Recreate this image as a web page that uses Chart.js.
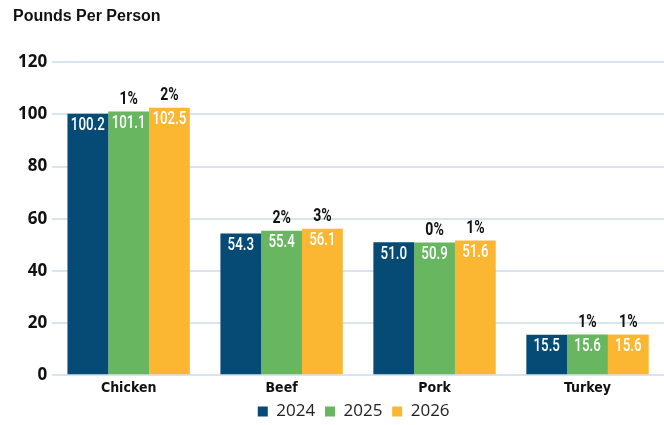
<!DOCTYPE html>
<html>
<head>
<meta charset="utf-8">
<script src="https://cdn.jsdelivr.net/npm/chart.js@4"></script>
<style>
  html, body { margin: 0; padding: 0; background: #fff; }
  #wrap { width: 664px; height: 425px; position: relative; }
</style>
</head>
<body>
<div id="wrap"><canvas id="chart"></canvas></div>
<script>
const categories = ['Chicken', 'Beef', 'Pork', 'Turkey'];
const years = ['2024', '2025', '2026'];
const values2024 = [100.2, 54.3, 51.0, 15.5];
const values2025 = [101.1, 55.4, 50.9, 15.6];
const values2026 = [102.5, 56.1, 51.6, 15.6];
const change2025 = ['1%', '2%', '0%', '1%'];
const change2026 = ['2%', '3%', '1%', '1%'];
const yTicks = [0, 20, 40, 60, 80, 100, 120];

const colors = ['#064b76', '#68b660', '#fbb731'];
const changes = [null, change2025, change2026];

// narrow text: squeeze it sideways
function narrowText(ctx, text, x, y, squeeze) {
    ctx.save();
    ctx.translate(x, y);
    ctx.scale(squeeze, 1);
    ctx.fillText(text, 0, 0);
    ctx.restore();
}

// labels: value inside the bar, change above it
const barLabels = {
    id: 'barLabels',
    afterDatasetsDraw(chart) {
        const ctx = chart.ctx;
        ctx.save();
        ctx.textAlign = 'center';
        ctx.textBaseline = 'middle';
        chart.data.datasets.forEach((ds, i) => {
            const meta = chart.getDatasetMeta(i);
            meta.data.forEach((bar, j) => {
                ctx.fillStyle = '#fff';
                ctx.font = '500 18px Roboto, sans-serif';
                narrowText(ctx, ds.data[j].toFixed(1), bar.x, bar.y + 12, 0.74);
                if (changes[i]) {
                    ctx.fillStyle = '#111';
                    ctx.font = 'bold 18px Roboto, sans-serif';
                    narrowText(ctx, changes[i][j], bar.x, bar.y - 12, 0.78);
                }
            });
        });
        ctx.restore();
    }
};

new Chart(document.querySelector('#chart'), {
    type: 'bar',
    data: {
        labels: categories,
        datasets: [
            { label: years[0], data: values2024, backgroundColor: colors[0] },
            { label: years[1], data: values2025, backgroundColor: colors[1] },
            { label: years[2], data: values2026, backgroundColor: colors[2] },
        ]
    },
    options: {
        responsive: true,
        maintainAspectRatio: false,
        animation: false,
        layout: { padding: { left: 13, right: 0, top: 4, bottom: -5 } },
        datasets: { bar: { categoryPercentage: 0.8, barPercentage: 1.0 } },
        scales: {
            x: {
                grid: { display: false, drawTicks: false },
                border: { display: false },
                ticks: {
                    color: '#111',
                    padding: 5,
                    font: { family: '"DejaVu Sans Condensed", "Roboto Condensed", Roboto, sans-serif', weight: 'bold', size: 14 }
                }
            },
            y: {
                min: 0,
                max: 120,
                afterBuildTicks: axis => { axis.ticks = yTicks.map(v => ({ value: v })); },
                grid: { color: '#d8e4ee', lineWidth: 2, drawTicks: false },
                border: { display: false },
                ticks: {
                    color: '#111',
                    padding: 5,
                    font: { family: '"Open Sans", sans-serif', weight: 'bold', size: 17 }
                }
            }
        },
        plugins: {
            title: {
                display: true,
                text: 'Pounds Per Person',
                align: 'start',
                color: '#111',
                font: { family: '"Liberation Sans", sans-serif', weight: 'bold', size: 16 },
                padding: { top: 3, bottom: 36 }
            },
            legend: {
                position: 'bottom',
                fullSize: false,
                labels: {
                    boxWidth: 10,
                    boxHeight: 10,
                    padding: 1,
                    color: '#222',
                    font: { family: '"Open Sans", sans-serif', size: 17, lineHeight: 1 },
                    generateLabels: chart => Chart.defaults.plugins.legend.labels.generateLabels(chart)
                        .map(item => ({ ...item, text: item.text + '  ' }))
                }
            },
            tooltip: { enabled: false }
        }
    },
    plugins: [barLabels]
});
</script>
</body>
</html>
